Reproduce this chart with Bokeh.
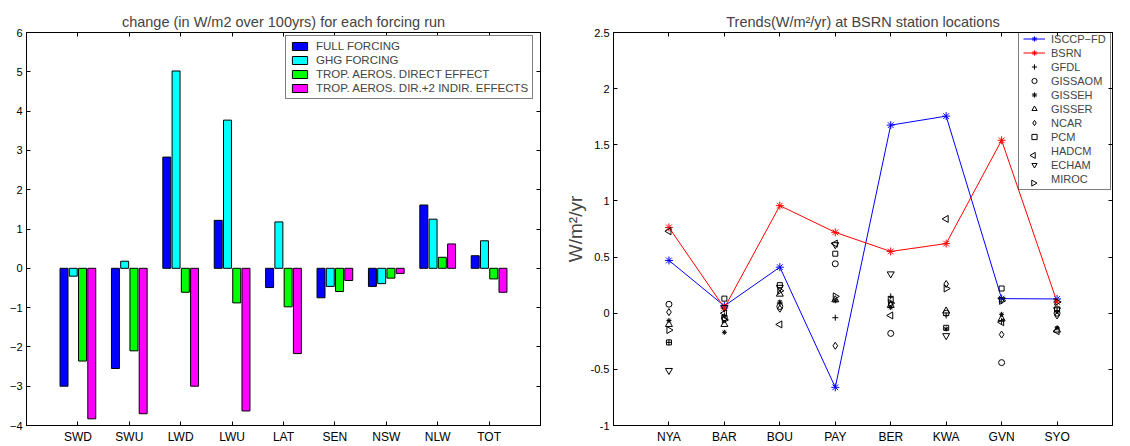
import numpy as np
from bokeh.plotting import figure
from bokeh.models import Range1d, LinearAxis, FixedTicker, Legend, LegendItem, ColumnDataSource
from bokeh.layouts import row
from bokeh.embed import file_html
from bokeh.resources import INLINE

FONT = "Liberation Sans"

# ---------------- left chart data ----------------
flux_terms = ["SWD", "SWU", "LWD", "LWU", "LAT", "SEN", "NSW", "NLW", "TOT"]
full_forcing = [-3.0, -2.55, 2.83, 1.22, -0.49, -0.75, -0.46, 1.61, 0.32]
ghg_forcing = [-0.2, 0.18, 5.02, 3.77, 1.18, -0.46, -0.39, 1.25, 0.70]
aer_direct = [-2.36, -2.10, -0.61, -0.88, -0.98, -0.59, -0.25, 0.28, -0.27]
aer_dir_indir = [-3.83, -3.70, -3.0, -3.63, -2.17, -0.31, -0.13, 0.62, -0.61]
bar_names = ["FULL FORCING", "GHG FORCING", "TROP. AEROS. DIRECT EFFECT",
             "TROP. AEROS. DIR.+2 INDIR. EFFECTS"]
left_yticks = [-4, -3, -2, -1, 0, 1, 2, 3, 4, 5, 6]

# ---------------- right chart data ----------------
stations = ["NYA", "BAR", "BOU", "PAY", "BER", "KWA", "GVN", "SYO"]
isccp_fd = [0.47, 0.065, 0.41, -0.66, 1.675, 1.755, 0.13, 0.127]
bsrn = [0.764, 0.047, 0.958, 0.72, 0.55, 0.62, 1.54, 0.10]
gfdl = [-0.26, -0.02, 0.09, -0.04, 0.15, -0.02, -0.07, 0.02]
gissaom = [0.08, -0.04, 0.06, 0.44, -0.18, 0.0, -0.44, 0.0]
gisseh = [-0.065, -0.17, 0.10, 0.11, 0.05, -0.14, -0.01, -0.13]
gisser = [-0.10, -0.10, 0.17, 0.12, 0.07, 0.02, -0.05, -0.15]
ncar = [0.01, -0.05, 0.04, -0.29, 0.08, 0.26, -0.19, -0.02]
pcm = [-0.26, 0.13, 0.25, 0.53, 0.12, -0.13, 0.22, 0.035]
hadcm = [0.73, 0.0, -0.10, 0.62, -0.02, 0.84, -0.08, -0.16]
echam = [-0.51, 0.05, 0.23, 0.61, 0.35, -0.20, 0.12, 0.03]
miroc = [-0.15, -0.06, 0.20, 0.15, 0.09, 0.22, 0.11, 0.10]
model_names = ["GFDL", "GISSAOM", "GISSEH", "GISSER", "NCAR", "PCM", "HADCM", "ECHAM", "MIROC"]
right_yticks = [-1, -0.5, 0, 0.5, 1, 1.5, 2, 2.5]
right_ytick_labels = ["-1", "-0.5", "0", "0.5", "1", "1.5", "2", "2.5"]


def style_axis(ax, ticks, hide_labels=False, size="11px"):
    ax.ticker = FixedTicker(ticks=list(ticks))
    ax.axis_line_color = "black"
    ax.axis_line_width = 1
    ax.major_tick_line_color = "black"
    ax.major_tick_in = 4
    ax.major_tick_out = 0
    ax.minor_tick_line_color = None
    ax.major_label_text_font = FONT
    ax.major_label_text_color = "black"
    ax.major_label_text_font_size = size
    if hide_labels:
        ax.major_label_overrides = {t: "" for t in ticks}
        ax.major_label_standoff = 0
    else:
        ax.major_label_standoff = 4


# ================= LEFT =================
L_W, L_H = 560, 446
L_LEFT, L_RIGHT, L_TOP, L_BOTTOM = 26, 20, 32, 16
p1 = figure(width=L_W, height=L_H, x_range=Range1d(0, 10), y_range=Range1d(-4, 6),
            output_backend="svg", toolbar_location=None,
            min_border_left=L_LEFT, min_border_right=L_RIGHT,
            min_border_top=L_TOP, min_border_bottom=L_BOTTOM)
p1.title.text = "change (in W/m2 over 100yrs) for each forcing run"
p1.title.align = "center"
p1.title.text_font = FONT
p1.title.text_font_size = "14.5px"
p1.title.text_font_style = "normal"
p1.title.standoff = 6
p1.grid.visible = False
p1.outline_line_color = "black"

xb = np.arange(1, len(flux_terms) + 1)
offsets = [-0.27, -0.09, 0.09, 0.27]
colors = ["#0000ff", "#00ffff", "#00ff00", "#ff00ff"]
series = [full_forcing, ghg_forcing, aer_direct, aer_dir_indir]
bar_items = []
for name, vals, col, off in zip(bar_names, series, colors, offsets):
    r = p1.vbar(x=xb + off, top=vals, bottom=0, width=0.155,
                fill_color=col, line_color="black", line_width=1)
    bar_items.append(LegendItem(label=name, renderers=[r]))

style_axis(p1.xaxis[0], [int(i) for i in xb], size="12px")
p1.xaxis.major_label_overrides = {int(i): t for i, t in zip(xb, flux_terms)}
style_axis(p1.yaxis[0], left_yticks)
ax = LinearAxis()
style_axis(ax, left_yticks, True)
p1.add_layout(ax, "right")
ax = LinearAxis()
style_axis(ax, [int(i) for i in xb], True)
p1.add_layout(ax, "above")

l_frame_w = L_W - L_LEFT - L_RIGHT
l_frame_h = L_H - L_TOP - L_BOTTOM
leg1 = Legend(items=bar_items, location=(l_frame_w - 7 - 248, l_frame_h - 10 - 62))
leg1.border_line_color = "black"
leg1.border_line_width = 1.5
leg1.background_fill_alpha = 1
leg1.label_text_font = FONT
leg1.label_text_font_size = "11.5px"
leg1.label_height = 12
leg1.glyph_height = 10
leg1.glyph_width = 19
leg1.spacing = 2
leg1.padding = 4
leg1.margin = 0
leg1.label_standoff = 7
p1.add_layout(leg1)

# ================= RIGHT =================
R_W, R_H = 570, 446
R_LEFT, R_RIGHT, R_TOP, R_BOTTOM = 53, 18, 32, 16
X0, X1, Y0, Y1 = 0, 9, -1, 2.5
p2 = figure(width=R_W, height=R_H, x_range=Range1d(X0, X1), y_range=Range1d(Y0, Y1),
            output_backend="svg", toolbar_location=None,
            min_border_left=R_LEFT, min_border_right=R_RIGHT,
            min_border_top=R_TOP, min_border_bottom=R_BOTTOM)
p2.title.text = "Trends(W/m²/yr) at BSRN station locations"
p2.title.align = "center"
p2.title.text_font = FONT
p2.title.text_font_size = "14.5px"
p2.title.text_font_style = "normal"
p2.title.standoff = 6
p2.grid.visible = False
p2.outline_line_color = "black"

xs = np.arange(1, len(stations) + 1)
items = []
l1 = p2.line(xs, isccp_fd, line_color="blue", line_width=1)
s1 = p2.scatter(xs, isccp_fd, marker="asterisk", size=8, line_color="blue", line_width=1)
items.append(LegendItem(label="ISCCP−FD", renderers=[l1, s1]))
l2 = p2.line(xs, bsrn, line_color="red", line_width=1)
s2 = p2.scatter(xs, bsrn, marker="asterisk", size=8, line_color="red", line_width=1)
items.append(LegendItem(label="BSRN", renderers=[l2, s2]))

models = [gfdl, gissaom, gisseh, gisser, ncar, pcm, hadcm, echam, miroc]
markers = [("cross", 0), ("circle", 0), ("asterisk", 0), ("triangle", 0), ("diamond", 0),
           ("square", 0), ("triangle", np.pi / 2), ("inverted_triangle", 0), ("triangle", -np.pi / 2)]
sizes = [6, 6, 5, 7, 7, 5, 7, 7, 7]
rotated = []  # legend rows whose glyph must be rotated (legend glyphs ignore marker angle)
for name, vals, (mk, ang), sz in zip(model_names, models, markers, sizes):
    src = ColumnDataSource(dict(x=xs, y=vals, ang=[ang] * len(xs)))
    r = p2.scatter("x", "y", source=src, marker=mk, angle="ang", size=sz, line_color="black",
                   fill_color=None, line_width=1)
    if ang != 0:
        proxy = p2.scatter(x=[], y=[], marker=mk, line_alpha=0, fill_alpha=0)
        items.append(LegendItem(label=name, renderers=[proxy]))
        rotated.append((len(items) - 1, mk, ang))
    else:
        items.append(LegendItem(label=name, renderers=[r]))

style_axis(p2.xaxis[0], [int(i) for i in xs], size="12px")
p2.xaxis.major_label_overrides = {int(i): t for i, t in zip(xs, stations)}
style_axis(p2.yaxis[0], right_yticks)
p2.yaxis.major_label_overrides = {v: t for v, t in zip(right_yticks, right_ytick_labels)}
p2.yaxis.axis_label = "W/m²/yr"
p2.yaxis.axis_label_text_font = FONT
p2.yaxis.axis_label_text_font_size = "19px"
p2.yaxis.axis_label_text_font_style = "normal"
p2.yaxis.axis_label_standoff = 2
ax = LinearAxis()
style_axis(ax, right_yticks, True)
p2.add_layout(ax, "right")
ax = LinearAxis()
style_axis(ax, [int(i) for i in xs], True)
p2.add_layout(ax, "above")

# legend geometry (screen px, relative to frame)
LG_PAD, LG_ROW, LG_SPACE, LG_GW = 4, 13, 1, 22
frame_w = R_W - R_LEFT - R_RIGHT
frame_h = R_H - R_TOP - R_BOTTOM
lg_h = 2 * LG_PAD + len(items) * LG_ROW + (len(items) - 1) * LG_SPACE
lg_left = frame_w - 94
lg_top = 2
leg2 = Legend(items=items, location=(lg_left, frame_h - lg_top - lg_h))
leg2.border_line_color = "black"
leg2.border_line_width = 1.5
leg2.background_fill_alpha = 0
leg2.label_text_font = FONT
leg2.label_text_font_size = "11px"
leg2.label_height = LG_ROW
leg2.glyph_height = LG_ROW
leg2.glyph_width = LG_GW
leg2.spacing = LG_SPACE
leg2.padding = LG_PAD
leg2.margin = 0
leg2.label_standoff = 6
p2.add_layout(leg2)

px_x = (X1 - X0) / frame_w
px_y = (Y1 - Y0) / frame_h
for idx, mk, ang in rotated:
    sx = lg_left + LG_PAD + LG_GW / 2
    sy = lg_top + LG_PAD + idx * (LG_ROW + LG_SPACE) + LG_ROW / 2
    p2.scatter(x=[X0 + sx * px_x], y=[Y1 - sy * px_y], marker=mk, angle=ang, size=6,
               line_color="black", fill_color=None, line_width=1)

layout = row(p1, p2)
open("out.html", "w").write(file_html(layout, INLINE))
